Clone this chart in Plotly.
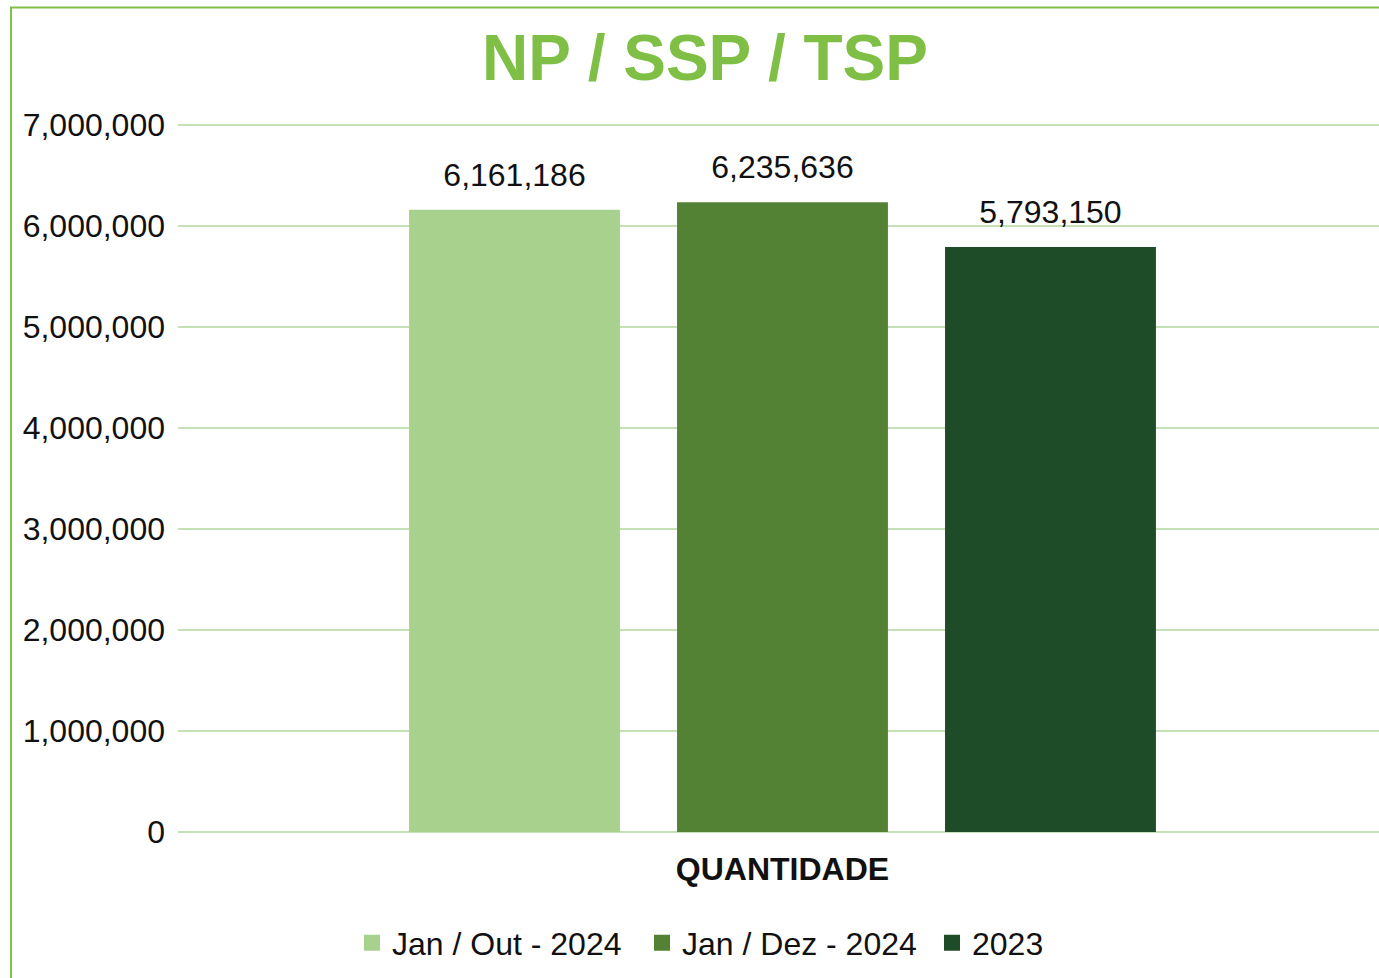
import plotly.graph_objects as go

categories = ["QUANTIDADE"]
series_names = ["Jan / Out - 2024", "Jan / Dez - 2024", "2023"]
series_values = [[6161186], [6235636], [5793150]]
series_colors = ["#a9d18e", "#548235", "#1e4b28"]
y_ticks = [0, 1000000, 2000000, 3000000, 4000000, 5000000, 6000000, 7000000]

FONT = "Liberation Sans, Arial, sans-serif"
GREEN = "#7fbf45"
GRID = "#c5e0b4"

W, H = 1379, 978
ML, MR, MT, MB = 178, 0, 123, 146
PW, PH = W - ML - MR, H - MT - MB

fig = go.Figure()
for name, vals, col in zip(series_names, series_values, series_colors):
    fig.add_trace(go.Bar(
        x=categories, y=vals, name=name, marker=dict(color=col, line=dict(width=0)),
        texttemplate="<span style='font-size:32px'>%{y:,}</span><br>\u00a0",
        textposition="outside", cliponaxis=False,
        textfont=dict(family=FONT, size=14, color="#111111"),
        showlegend=False, hoverinfo="skip",
    ))
for name, col in zip(series_names, series_colors):
    fig.add_trace(go.Scatter(
        x=[None], y=[None], mode="markers", name=name,
        marker=dict(symbol="square", size=16, color=col),
    ))


def px_x(p):
    return (p - ML) / PW


def px_y(p):
    return (H - MB - p) / PH


fig.update_layout(
    width=W, height=H, autosize=False,
    margin=dict(l=ML, r=MR, t=MT, b=MB, pad=0),
    paper_bgcolor="white", plot_bgcolor="white",
    barmode="group", bargap=0.335, bargroupgap=0.213,
    font=dict(family=FONT, color="#111111"),
    title=dict(
        text="NP / SSP / TSP", xref="container", yref="container",
        x=705 / W, y=1 - 58 / H, xanchor="center", yanchor="middle",
        font=dict(family=FONT, size=64, color=GREEN, weight="bold"),
    ),
    xaxis=dict(
        type="category", range=[-0.5, 0.4934], showgrid=False, showline=False,
        zeroline=False, automargin=False, ticks="", ticklabelstandoff=15,
        tickfont=dict(family=FONT, size=32, color="#111111", weight="bold"),
    ),
    yaxis=dict(
        range=[0, 7020000], tickvals=y_ticks, tickformat=",", showgrid=True,
        gridcolor=GRID, gridwidth=2, zeroline=True, zerolinecolor=GRID,
        zerolinewidth=2, showline=False, automargin=False, ticks="",
        ticklabelstandoff=12, tickfont=dict(family=FONT, size=32, color="#111111"),
    ),
    legend=dict(
        orientation="h", x=px_x(352), xanchor="left", y=px_y(943),
        yanchor="middle", font=dict(family=FONT, size=32, color="#111111"),
        bgcolor="rgba(0,0,0,0)", entrywidth=245, entrywidthmode="pixels",
    ),
    shapes=[
        dict(type="line", xref="paper", yref="paper", x0=px_x(11), x1=px_x(11),
             y0=px_y(7), y1=px_y(H + 20), line=dict(color="#82c04a", width=2)),
        dict(type="line", xref="paper", yref="paper", x0=px_x(10), x1=px_x(W + 20),
             y0=px_y(7.5), y1=px_y(7.5), line=dict(color="#82c04a", width=2)),
    ],
)

fig.write_html("out.html", config={"displayModeBar": False},
               post_script="document.body.style.margin='0';")
